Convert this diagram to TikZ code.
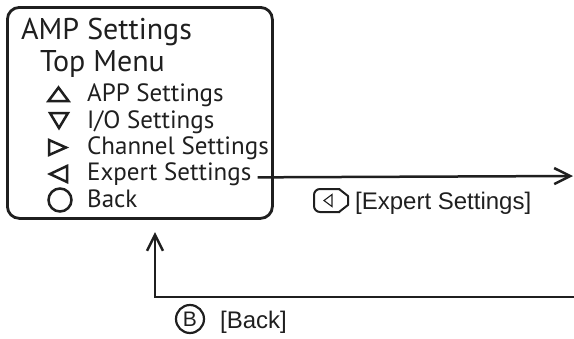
\documentclass[tikz,border=0pt]{standalone}
\usepackage{fontspec}
\setmainfont{Liberation Sans}
\newfontfamily\boxfont{PT Sans}
\usetikzlibrary{arrows.meta,calc}
\begin{document}
\begin{tikzpicture}[x=1pt,y=-1pt,
  ln/.style={line width=2.5pt, draw=black!88},
  sym/.style={line width=2.5pt, draw=black!88, line join=miter},
  arr/.style={ln, -{Straight Barb[length=16pt,width=16pt,line width=2.5pt]}},
  ttl/.style={font=\boxfont\fontsize{30}{30}\selectfont, anchor=base west, inner sep=0pt, text=black!88},
  itm/.style={font=\boxfont\fontsize{25}{25}\selectfont, anchor=base west, inner sep=0pt, text=black!88},
  lbl/.style={font=\fontsize{24}{24}\selectfont, anchor=base west, inner sep=0pt, text=black!88}]
\useasboundingbox (0,0) rectangle (574,338);
% main box
\node[draw=black!88, line width=2.8pt, rounded corners=12pt, minimum width=265pt, minimum height=211pt, anchor=north west, inner sep=0pt] (box) at (6,6) {};
% texts
\node[ttl] (t1) at (21,39) {AMP Settings};
\node[ttl] (t2) at (40,71) {Top Menu};
\node[itm] (i1) at (87,101) {APP Settings};
\node[itm] (i2) at (87,128) {I/O Settings};
\node[itm] (i3) at (87,154) {Channel Settings};
\node[itm, inner xsep=6pt] (i4) at (81,180) {Expert Settings};
\node[itm] (i5) at (87,207) {Back};
% symbols
\draw[sym] (48.5,101) -- (58.5,87.5) -- (68.5,101) -- cycle;
\draw[sym] (50,113) -- (68,113) -- (59,128) -- cycle;
\draw[sym] (49,140) -- (66,147.5) -- (49,155) -- cycle;
\draw[sym] (67,166) -- (50,174) -- (67,182) -- cycle;
\draw[sym] (60,200) circle[radius=11.5pt];
% expert arrow
\coordinate (eEnd) at (573,176);
\draw[arr] (i4.mid east) -- (eEnd);
% expert key icon
\draw[line width=2pt, draw=black!88, rounded corners=6pt] (340,189) -- (314,189) -- (314,212) -- (340,212);
\draw[line width=2pt, draw=black!88, line join=round] (339,189) -- (348,196) -- (348,205) -- (339,212);
\draw[line width=1.1pt, draw=black!88] (332,194.5) -- (324,200.5) -- (332,206.5) -- cycle;
\node[lbl] (le) at (355,209) {[Expert Settings]};
% back arrow
\coordinate (bStart) at (574,297);
\coordinate (bTip) at (155,232);
\draw[arr] (bStart) -| (bTip);
\node[draw=black!88, line width=2.2pt, circle, minimum size=28pt, inner sep=0pt, font=\fontsize{21}{21}\selectfont, text=black!88] (bk) at (190,319) {B};
\node[lbl] (lb) at (220,328) {[Back]};
\end{tikzpicture}
\end{document}
